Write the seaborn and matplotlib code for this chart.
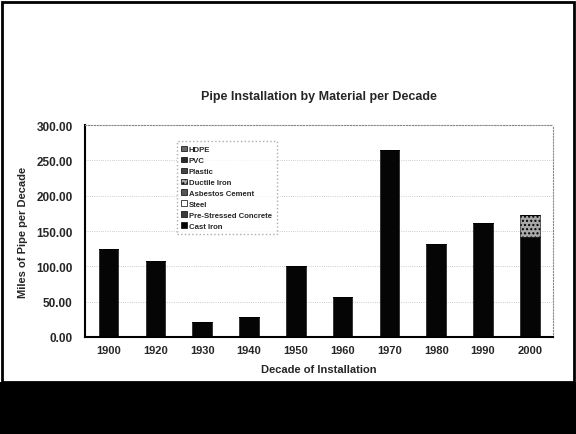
import matplotlib
matplotlib.use("Agg")
import matplotlib.pyplot as plt
import seaborn as sns
import numpy as np
from matplotlib.patches import Patch, Rectangle

sns.set_style("white")
plt.rcParams['font.family'] = ['Liberation Sans', 'DejaVu Sans']

decades = ["1900", "1920", "1930", "1940", "1950", "1960", "1970", "1980", "1990", "2000"]
# stacking order, bottom to top
materials = ["Cast Iron", "Pre-Stressed Concrete", "Steel", "Asbestos Cement",
             "Ductile Iron", "Plastic", "PVC", "HDPE"]
cast_iron = [125, 108, 21, 28, 101, 56, 265, 132, 161, 142]
prestressed = [0, 0, 0, 0, 0, 0, 0, 0, 0, 0]
steel = [0, 0, 0, 0, 0, 0, 0, 0, 0, 0]
asbestos = [0, 0, 0, 0, 0, 0, 0, 0, 0, 0]
ductile = [0, 0, 0, 0, 0, 0, 0, 0, 0, 31]
plastic = [0, 0, 0, 0, 0, 0, 0, 0, 0, 0]
pvc = [0, 0, 0, 0, 0, 0, 0, 0, 0, 0]
hdpe = [0, 0, 0, 0, 0, 0, 0, 0, 0, 0]
series = [cast_iron, prestressed, steel, asbestos, ductile, plastic, pvc, hdpe]
colors = ["#050505", "#3a3a3a", "#ffffff", "#555555", "#a8a8a8", "#444444", "#2a2a2a", "#666666"]

fig = plt.figure(figsize=(5.76, 4.35), dpi=100)
ax = fig.add_axes([0.148, 0.223, 0.8125, 0.487])

bottom = np.zeros(len(decades))
for name, vals, col in zip(materials, series, colors):
    vals = np.array(vals, dtype=float)
    sns.barplot(x=decades, y=vals, bottom=bottom, color=col, width=0.42,
                saturation=1, edgecolor="black", linewidth=0.4, ax=ax,
                hatch="...." if name == "Ductile Iron" else None)
    bottom += vals

ax.set_ylim(0, 300)
ax.set_xlim(-0.5, 9.5)
ax.set_yticks(np.arange(0, 301, 50))
ax.set_yticklabels([f"{v:.2f}" for v in np.arange(0, 301, 50)],
                   fontsize=8.5, fontweight="bold")
ax.set_xticks(range(len(decades)))
ax.set_xticklabels(decades, fontsize=8, fontweight="bold")
ax.tick_params(axis="y", length=0, pad=9)
ax.tick_params(axis="x", length=0, pad=6)
ax.yaxis.grid(True, linestyle=":", color="#bbbbbb", linewidth=0.6)
ax.set_axisbelow(True)
for s in ["top", "right"]:
    ax.spines[s].set_linestyle(":")
    ax.spines[s].set_color("#888888")
    ax.spines[s].set_linewidth(0.8)
for s in ["left", "bottom"]:
    ax.spines[s].set_color("black")
    ax.spines[s].set_linewidth(1.5)

ax.set_title("Pipe Installation by Material per Decade", fontsize=9,
             fontweight="bold", pad=19)
ax.set_xlabel("Decade of Installation", fontsize=8, fontweight="bold", labelpad=6)
ax.set_ylabel("Miles of Pipe per Decade", fontsize=8, fontweight="bold", labelpad=6)

handles = [Patch(facecolor=c, edgecolor="black", linewidth=0.5,
                 hatch="...." if m == "Ductile Iron" else None)
           for m, c in zip(materials, colors)][::-1]
leg = ax.legend(handles, materials[::-1], loc="upper left",
                bbox_to_anchor=(0.195, 0.925), fontsize=5.6, frameon=True,
                handlelength=0.7, handleheight=0.7, handletextpad=0.3,
                labelspacing=0.45, borderpad=0.6, borderaxespad=0,
                fancybox=False)
leg.get_frame().set_linestyle(":")
leg.get_frame().set_edgecolor("#999999")
for t in leg.get_texts():
    t.set_fontweight("bold")

# scan frame: dark band at the bottom and border at the top/left
fig.patches.append(Rectangle((0, 0), 1, 52 / 435, transform=fig.transFigure,
                             facecolor="black", edgecolor="none", zorder=-1))
fig.patches.append(Rectangle((0.004, 52 / 435), 0.992, 1 - 52 / 435 - 0.006,
                             transform=fig.transFigure, facecolor="none",
                             edgecolor="black", linewidth=2, zorder=-1))

fig.savefig("out.png", dpi=100)
